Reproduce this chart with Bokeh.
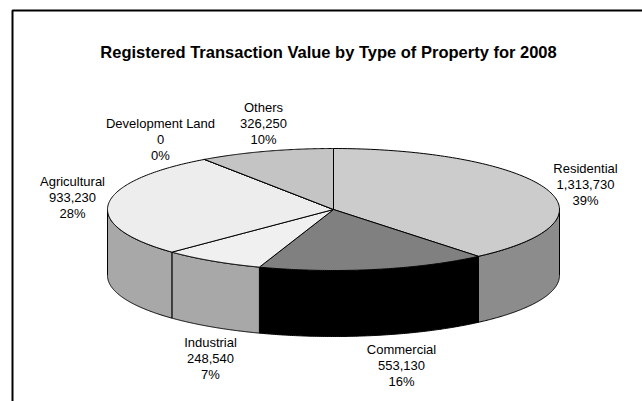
import numpy as np
from bokeh.plotting import figure
from bokeh.models import Range1d
from bokeh.core.properties import value
from bokeh.embed import file_html
from bokeh.resources import INLINE

categories = ["Residential", "Commercial", "Industrial", "Agricultural", "Development Land", "Others"]
values = [1313730, 553130, 248540, 933230, 0, 326250]
percents = ["39%", "16%", "7%", "28%", "0%", "10%"]
top_colors = ["#CCCCCC", "#808080", "#F0F0F0", "#EDEDED", "#FFFFFF", "#C4C4C4"]
side_colors = ["#8C8C8C", "#000000", "#A8A8A8", "#A8A8A8", "#A8A8A8", "#A8A8A8"]
label_x = [585, 401, 210, 72, 160, 263]
label_y = [168, 349, 342, 181, 123, 107]
title = "Registered Transaction Value by Type of Property for 2008"

CX, CY, RX, RY, DEPTH = 333, 209, 226, 61, 66
LINE_GAP = 16
FONT = "Liberation Sans"

p = figure(width=642, height=401, output_backend="svg", toolbar_location=None,
           x_range=Range1d(0, 642), y_range=Range1d(401, 0), min_border=0)
p.axis.visible = False
p.grid.visible = False
p.outline_line_color = None
p.background_fill_color = "white"
p.border_fill_color = "white"

p.line([12, 12, 642], [401, 10, 10], line_color="black", line_width=2)

fractions = np.array(values, dtype=float) / sum(values)
edges = np.concatenate([[0], np.cumsum(fractions)]) * 2 * np.pi


def rim(a0, a1, n=120):
    t = np.linspace(a0, a1, n)
    return CX + RX * np.sin(t), CY - RY * np.cos(t)


# Side walls: only the front half of the rim (clock angle 90 to 270 degrees) shows
for i in range(len(values)):
    a0, a1 = max(edges[i], np.pi / 2), min(edges[i + 1], 3 * np.pi / 2)
    if a1 <= a0:
        continue
    x, y = rim(a0, a1)
    p.patch(np.r_[x, x[::-1]], np.r_[y, y[::-1] + DEPTH],
            fill_color=side_colors[i], line_color="black", line_width=1)

# Top faces
for i in range(len(values)):
    x, y = rim(edges[i], edges[i + 1])
    p.patch(np.r_[CX, x], np.r_[CY, y],
            fill_color=top_colors[i], line_color="black", line_width=1)

# Labels
for i, cat in enumerate(categories):
    lines = [cat, f"{values[i]:,}", percents[i]]
    p.text([label_x[i]] * 3, [label_y[i] + k * LINE_GAP for k in range(3)], text=lines,
           text_align="center", text_baseline="middle", text_color="black",
           text_font=value(FONT), text_font_size="13px")

p.text([328], [51.5], text=[title], text_align="center", text_baseline="middle",
       text_color="black", text_font=value(FONT), text_font_size="16.5px",
       text_font_style="bold")

open("out.html", "w").write(file_html(p, INLINE))
